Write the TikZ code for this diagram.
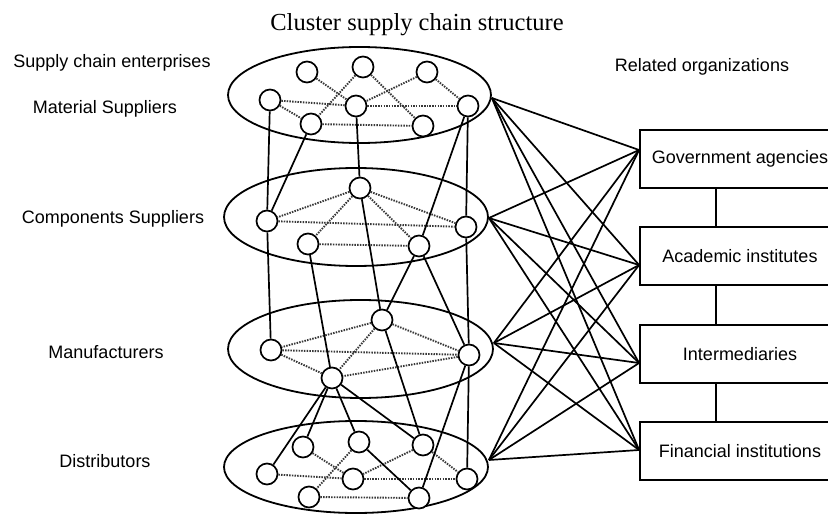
\documentclass[tikz,border=0pt]{standalone}
\usepackage{fontspec}
\setmainfont{Liberation Serif}
\setsansfont{Liberation Sans}
\usetikzlibrary{shapes.geometric}
\begin{document}
\begin{tikzpicture}[x=1pt,y=-1pt,
  lbl/.style={font=\sffamily\fontsize{18}{20}\selectfont, anchor=base, inner sep=0pt},
  ent/.style={circle, draw, line width=1.7pt, minimum size=21pt, inner sep=0pt, fill=white},
  grp/.style={ellipse, draw, line width=1.8pt, inner sep=0pt},
  org/.style={draw, line width=1.8pt, minimum width=200pt, minimum height=58pt, inner sep=0pt, font=\sffamily\fontsize{18}{20}\selectfont},
  link/.style={line width=1.7pt},
  peer/.style={line width=1.9pt, dash pattern=on 1.5pt off 1.2pt, draw=black!78},
]
\useasboundingbox (0,0) rectangle (828,516);
\clip (0,0) rectangle (828,516);

% title and labels
\node[font=\fontsize{24.5}{26}\selectfont, anchor=base, inner sep=0pt] (title) at (417,31) {Cluster supply chain structure};
\node[lbl] (l0) at (112,68) {Supply chain enterprises};
\node[lbl] (l1) at (105,114) {Material Suppliers};
\node[lbl] (l2) at (113,223) {Components Suppliers};
\node[lbl] (l3) at (106,358) {Manufacturers};
\node[lbl] (l4) at (105,467) {Distributors};
\node[lbl] (l5) at (702,72) {Related organizations};

% groups
\node[grp, minimum width=263pt, minimum height=96pt] (E1) at (359.5,95) {};
\node[grp, minimum width=264pt, minimum height=98pt] (E2) at (356,217) {};
\node[grp, minimum width=265pt, minimum height=98pt] (E3) at (360.5,349) {};
\node[grp, minimum width=264pt, minimum height=92pt] (E4) at (356,467) {};

% enterprises
\node[ent] (a1) at (307,72) {};
\node[ent] (a2) at (363,67) {};
\node[ent] (a3) at (427,72) {};
\node[ent] (a4) at (270,100) {};
\node[ent] (a5) at (356,106) {};
\node[ent] (a6) at (468,106) {};
\node[ent] (a7) at (311,124) {};
\node[ent] (a8) at (423,126) {};

\node[ent] (b1) at (360,188) {};
\node[ent] (b2) at (267,221) {};
\node[ent] (b3) at (466,227) {};
\node[ent] (b4) at (308,244) {};
\node[ent] (b5) at (419,246) {};

\node[ent] (c1) at (382,320) {};
\node[ent] (c2) at (271,350) {};
\node[ent] (c3) at (469,355) {};
\node[ent] (c4) at (332,378) {};

\node[ent] (d1) at (303,447) {};
\node[ent] (d2) at (359,442) {};
\node[ent] (d3) at (423,445) {};
\node[ent] (d4) at (267,474) {};
\node[ent] (d5) at (353,479) {};
\node[ent] (d6) at (467,479) {};
\node[ent] (d7) at (309,497) {};
\node[ent] (d8) at (419,498) {};

% dotted links within groups
\foreach \p/\q in {a1/a5, a2/a7, a2/a8, a3/a5, a3/a6, a4/a5, a4/a7, a5/a6, a7/a8,
                   b1/b2, b1/b3, b1/b4, b1/b5, b2/b3, b4/b5,
                   c1/c2, c1/c3, c1/c4, c2/c3, c2/c4, c3/c4,
                   d1/d5, d2/d7, d3/d5, d3/d6, d4/d5, d5/d6, d7/d8}
  \draw[peer] (\p) -- (\q);

% solid links between tiers
\foreach \p/\q in {a4/b2, a7/b2, a5/b1, a6/b3, a6/b5,
                   b2/c2, b4/c4, b1/c1, b5/c1, b5/c3, b3/c3,
                   c4/d4, c4/d1, c4/d2, c4/d3, c1/d3, c3/d8, c3/d6, d2/d8}
  \draw[link] (\p) -- (\q);

% related organizations
\node[org] (gov) at (740,159) {Government agencies};
\node[org] (acad) at (740,256) {Academic institutes};
\node[org] (inter) at (740,354) {Intermediaries};
\node[org] (fin) at (740,451) {Financial institutions};
\coordinate (vx) at (716,0);
\draw[link] (gov.south -| vx) -- (acad.north -| vx);
\draw[link] (acad.south -| vx) -- (inter.north -| vx);
\draw[link] (inter.south -| vx) -- (fin.north -| vx);

% fan of links
\foreach \e/\ey in {E1/-3pt, E2/-1pt, E3/6pt, E4/7pt}
  \foreach \b/\by in {gov/9pt, acad/-9pt, inter/-9pt, fin/1pt}
    \draw[link] ([yshift=\ey]\e.east) -- ([yshift=\by]\b.west);
\end{tikzpicture}
\end{document}
